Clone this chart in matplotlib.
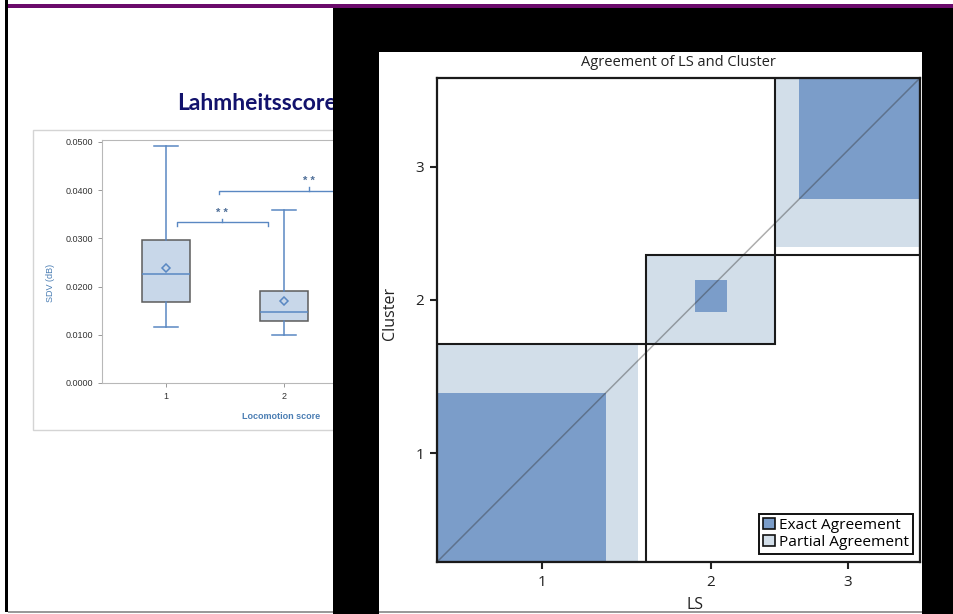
import numpy as np
import matplotlib.pyplot as plt
from matplotlib.patches import Rectangle, Patch

W, H = 954, 614

# SDV (dB) by locomotion score, box plot summary
loco_scores = [1, 2]
whisker_lo = [0.0117, 0.0100]
q1 = [0.0169, 0.0128]
medians = [0.0227, 0.0147]
q3 = [0.0297, 0.0191]
whisker_hi = [0.0492, 0.0358]
means = [0.0239, 0.0171]
sdv_ticks = [0.0, 0.01, 0.02, 0.03, 0.04, 0.05]

# agreement table: rows = Cluster 1..3, columns = LS 1..3
agree_counts = np.array([[21, 6, 0],
                         [4, 4, 3],
                         [1, 6, 15]])
agree_levels = ['1', '2', '3']

exact_col = '#7b9dc9'
partial_col = '#d2dee9'
box_fill = '#c8d7e9'
sas_blue = '#5a88c2'


def px_axes(x0, y0, x1, y1, **kw):
    return fig.add_axes([x0 / W, 1 - y1 / H, (x1 - x0) / W, (y1 - y0) / H], **kw)


def px_rect(x0, y0, x1, y1, **kw):
    r = Rectangle((x0 / W, 1 - y1 / H), (x1 - x0) / W, (y1 - y0) / H,
                  transform=fig.transFigure, **kw)
    fig.add_artist(r)
    return r


fig = plt.figure(figsize=(W / 100, H / 100), dpi=100)
fig.patch.set_facecolor('white')

# ---- slide frame ----
px_rect(8, 4, W, 7.5, facecolor='#6b0a6b', edgecolor='none', zorder=20)
px_rect(5, 0, 8, 612, facecolor='black', edgecolor='none', zorder=20)
px_rect(8, 611, 333, 612.5, facecolor='#9a9a9a', edgecolor='none', zorder=20)

fig.text(177 / W, 1 - 110 / H, 'Lahmheitsscore', fontsize=16.5, fontweight='bold',
         color='#12126c', family='Lato', va='baseline', ha='left', zorder=3)

# ---- box plot (slide picture) ----
px_rect(33, 130, 420, 430, facecolor='white', edgecolor='#d4d4d4', lw=1, zorder=1)
axb = px_axes(102, 140, 466, 383, zorder=2)
stats = []
for i in range(len(loco_scores)):
    stats.append(dict(whislo=whisker_lo[i], q1=q1[i], med=medians[i], q3=q3[i],
                      whishi=whisker_hi[i], mean=means[i], fliers=[]))
axb.bxp(stats, positions=loco_scores, widths=0.40, capwidths=0.2, showmeans=True,
        patch_artist=True,
        boxprops=dict(facecolor=box_fill, edgecolor='#5c5c5c', lw=1.1),
        medianprops=dict(color=sas_blue, lw=1.1),
        whiskerprops=dict(color=sas_blue, lw=1.1),
        capprops=dict(color=sas_blue, lw=1.1),
        meanprops=dict(marker='D', markersize=4.5, markerfacecolor='none',
                       markeredgecolor=sas_blue, markeredgewidth=1.1))

# significance brackets
for (xa, xb, yb) in [(1.09, 1.86, 0.0333), (1.45, 2.97, 0.0399)]:
    xm = (xa + xb) / 2
    axb.plot([xa, xa, xb, xb], [yb - 0.0008, yb, yb, yb - 0.0008], color=sas_blue, lw=1)
    axb.plot([xm, xm], [yb, yb + 0.0008], color=sas_blue, lw=1)
    axb.text(xm, yb + 0.0010, '* *', ha='center', va='bottom', fontsize=8,
             color='#4f6f98', family='Liberation Sans', fontweight='bold')

axb.set_xlim(0.458, 3.54)
axb.set_ylim(0, 0.0504)
axb.set_xticks(loco_scores)
axb.set_yticks(sdv_ticks)
axb.set_yticklabels([f'{v:.4f}' for v in sdv_ticks])
axb.tick_params(labelsize=6.5, colors='#333333', length=3, width=0.7)
axb.tick_params(axis='both', color='#999999')
for lab in axb.get_xticklabels() + axb.get_yticklabels():
    lab.set_family('Liberation Sans')
for sp in axb.spines.values():
    sp.set_color('#b8b8b8')
    sp.set_linewidth(0.8)
axb.set_ylabel('SDV (dB)', fontsize=6.5, color='#4a7db3', family='Liberation Sans')
axb.yaxis.set_label_coords(-0.13, 0.41)
axb.set_xlabel('Locomotion score', fontsize=6.5, color='#4a7db3',
               family='Liberation Sans', fontweight='bold')
axb.xaxis.set_label_coords((281 - 102) / 364, -0.12)

# ---- agreement plot panel ----
px_rect(333, 7.5, W, H, facecolor='black', edgecolor='none', zorder=10)
px_rect(379, 52, 922, H, facecolor='white', edgecolor='none', zorder=11)
px_rect(379, 611, 922, 612.5, facecolor='#9a9a9a', edgecolor='none', zorder=12)

axa = px_axes(437, 78, 920, 562, zorder=13)
n_lev = len(agree_levels)
ls_tot = agree_counts.sum(axis=0)
cl_tot = agree_counts.sum(axis=1)
x_edges = np.concatenate([[0], np.cumsum(ls_tot)])
y_edges = np.concatenate([[0], np.cumsum(cl_tot)])
total = agree_counts.sum()

for k in range(n_lev):
    x0, y0 = x_edges[k], y_edges[k]
    lo, hi = max(k - 1, 0), min(k + 1, n_lev - 1)
    # partial agreement: cells one step off the diagonal
    px = agree_counts[:lo, k].sum()
    pw = agree_counts[lo:hi + 1, k].sum()
    py = agree_counts[k, :lo].sum()
    ph = agree_counts[k, lo:hi + 1].sum()
    axa.add_patch(Rectangle((x0 + px, y0 + py), pw, ph, facecolor=partial_col,
                            edgecolor='none', zorder=1))
    # exact agreement square
    ex = agree_counts[:k, k].sum()
    ey = agree_counts[k, :k].sum()
    nkk = agree_counts[k, k]
    axa.add_patch(Rectangle((x0 + ex, y0 + ey), nkk, nkk, facecolor=exact_col,
                            edgecolor='none', zorder=2))

axa.plot([0, total], [0, total], color='#333333', alpha=0.4, lw=1.1, zorder=3)

for k in range(n_lev):
    axa.add_patch(Rectangle((x_edges[k], y_edges[k]), ls_tot[k], cl_tot[k],
                            facecolor='none', edgecolor='#1a1a1a', lw=1.5, zorder=4))

axa.set_xlim(0, total)
axa.set_ylim(0, total)
axa.set_xticks(x_edges[:-1] + ls_tot / 2)
axa.set_xticklabels(agree_levels)
axa.set_yticks(y_edges[:-1] + cl_tot / 2)
axa.set_yticklabels(agree_levels)
axa.tick_params(labelsize=11, colors='#222222', length=5, width=1.5, pad=4)
for lab in axa.get_xticklabels() + axa.get_yticklabels():
    lab.set_family('Open Sans')
for sp in axa.spines.values():
    sp.set_color('#1a1a1a')
    sp.set_linewidth(1.6)

axa.set_xlabel('LS', fontsize=11.5, family='Open Sans', color='#222222')
axa.xaxis.set_label_coords((695 - 437) / 483, -0.072)
axa.set_ylabel('Cluster', fontsize=11.5, family='Open Sans', color='#222222')
axa.yaxis.set_label_coords(-0.08, (562 - 313) / 484)
axa.set_title('Agreement of LS and Cluster', fontsize=10.5, family='Open Sans',
              color='#222222', pad=9)

handles = [Patch(facecolor=exact_col, edgecolor='#111111', lw=1.2, label='Exact Agreement'),
           Patch(facecolor=partial_col, edgecolor='#111111', lw=1.2, label='Partial Agreement')]
leg = axa.legend(handles=handles, loc='lower right',
                 bbox_to_anchor=((913 - 437) / 483, (562 - 554) / 484),
                 borderaxespad=0, fancybox=False, framealpha=1, edgecolor='#111111',
                 handlelength=0.75, handleheight=0.75, handletextpad=0.3,
                 borderpad=0.25, labelspacing=0.15,
                 prop={'family': 'Open Sans', 'size': 11.1})
leg.get_frame().set_linewidth(1.4)
leg.set_zorder(10)

fig.savefig('out.png', dpi=100)
